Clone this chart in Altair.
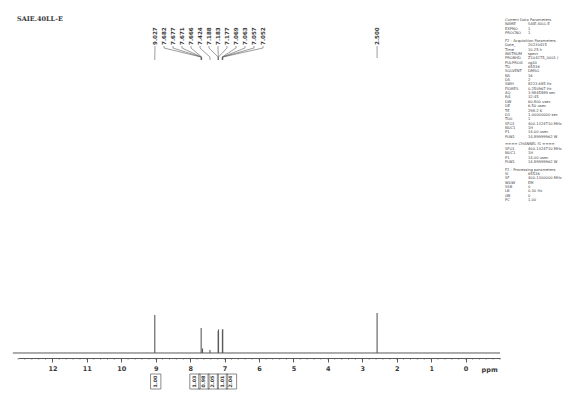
import altair as alt
import pandas as pd
import numpy as np

# ---------------- data ----------------
title_text = "SAIE.40LL-E"

peak_ppm = [9.027, 7.680, 7.640, 7.424, 7.186, 7.176, 7.063, 7.053, 2.570]
peak_int = [100, 66, 12, 8, 58, 62, 60, 63, 105]

label_texts = ["9.027", "7.682", "7.677", "7.671", "7.666", "7.424", "7.188",
               "7.183", "7.177", "7.069", "7.063", "7.057", "7.052"]
label_targets = [9.027, 7.682, 7.677, 7.671, 7.666, 7.424, 7.188,
                 7.183, 7.177, 7.069, 7.063, 7.057, 7.052]
solvent_label = "2.500"
solvent_ppm = 2.570

tick_values = list(range(0, 13))
minor_ticks = [round(v, 2) for v in np.arange(-1.0, 13.01, 0.2)]

integral_ppm = [9.00, 7.86, 7.60, 7.33, 7.06, 6.80]
integral_txt = ["1.00", "1.03", "0.98", "2.05", "1.01", "2.04"]

param_rows = [
    ("Current Data Parameters", "", 1),
    ("NAME", "SAIE.40LL-E", 0),
    ("EXPNO", "1", 0),
    ("PROCNO", "1", 0),
    ("", "", 2),
    ("F2 - Acquisition Parameters", "", 1),
    ("Date_", "20230415", 0),
    ("Time", "10.25 h", 0),
    ("INSTRUM", "spect", 0),
    ("PROBHD", "Z104275_0001 (", 0),
    ("PULPROG", "zg30", 0),
    ("TD", "65536", 0),
    ("SOLVENT", "DMSO", 0),
    ("NS", "16", 0),
    ("DS", "2", 0),
    ("SWH", "8223.685 Hz", 0),
    ("FIDRES", "0.250967 Hz", 0),
    ("AQ", "3.9845889 sec", 0),
    ("RG", "32.45", 0),
    ("DW", "60.800 usec", 0),
    ("DE", "6.50 usec", 0),
    ("TE", "298.2 K", 0),
    ("D1", "1.00000000 sec", 0),
    ("TD0", "1", 0),
    ("SFO1", "400.1324710 MHz", 0),
    ("NUC1", "1H", 0),
    ("P1", "14.00 usec", 0),
    ("PLW1", "14.89999962 W", 0),
    ("", "", 2),
    ("==== CHANNEL f1 ====", "", 1),
    ("SFO1", "400.1324710 MHz", 0),
    ("NUC1", "1H", 0),
    ("P1", "14.00 usec", 0),
    ("PLW1", "14.89999962 W", 0),
    ("", "", 2),
    ("F2 - Processing parameters", "", 1),
    ("SI", "65536", 0),
    ("SF", "400.1300000 MHz", 0),
    ("WDW", "EM", 0),
    ("SSB", "0", 0),
    ("LB", "0.30 Hz", 0),
    ("GB", "0", 0),
    ("PC", "1.00", 0),
]

# ---------------- layout helpers ----------------
W, H = 482, 350
X_DOMAIN = [13, -1]
Y_DOMAIN = [-13.16, 907.9]
LINE = "#5a5a5a"
TXT = "#3a3a3a"

def px_to_ppm(px):
    return X_DOMAIN[0] - px * (X_DOMAIN[0] - X_DOMAIN[1]) / W

xscale = alt.Scale(domain=X_DOMAIN, nice=False, zero=False)
yscale = alt.Scale(domain=Y_DOMAIN, nice=False, zero=False)
xaxis = alt.Axis(values=tick_values, format="d", tickSize=4,
                 labelFontSize=6.5, labelFontWeight="bold",
                 labelColor=TXT, labelPadding=3, labelFont="DejaVu Sans",
                 domainColor=LINE, tickColor=LINE, grid=False,
                 title=None, labelFlush=False)

# ---------------- tables ----------------
peaks = pd.DataFrame({"ppm": peak_ppm, "h": peak_int, "z": 0})
base = pd.DataFrame({"ppm": [13.15], "b": [-1.0], "z": [0]})
minor = pd.DataFrame({"ppm": minor_ticks})

lab_px = [137 + 9 * i for i in range(len(label_texts))]
labels = pd.DataFrame({
    "txt": label_texts + [solvent_label],
    "ppm": [px_to_ppm(p) for p in lab_px] + [solvent_ppm],
    "tx": label_targets + [solvent_ppm],
})
conn = labels.iloc[:-1]
solv = labels.iloc[-1:]

integ = pd.DataFrame({"ppm": integral_ppm, "txt": integral_txt})
integ["lo"] = integ["ppm"] + 0.15
integ["hi"] = integ["ppm"] - 0.15

prows = []
yy = 12.0
for k, v, kind in param_rows:
    if kind == 2:
        yy += 3.5
        continue
    prows.append({"k": k, "v": v, "y": yy, "hdr": kind})
    yy += 4.35
params = pd.DataFrame(prows)

# ---------------- layers ----------------
X = lambda f: alt.X(f, type="quantitative", scale=xscale, axis=xaxis)

peak_layer = alt.Chart(peaks).mark_rule(color=LINE, strokeWidth=1.1).encode(
    x=X("ppm"),
    y=alt.Y("z:Q", scale=yscale, axis=None),
    y2="h")

baseline = alt.Chart(base).mark_rule(color=LINE, strokeWidth=1).encode(
    x=X("ppm"), x2="b",
    y=alt.Y("z:Q", scale=yscale, axis=None))

minor_layer = alt.Chart(minor).mark_rule(color=LINE, strokeWidth=0.5, opacity=0.8).encode(
    x=X("ppm"), y=alt.value(H), y2=alt.value(H + 2))

ppm_text = alt.Chart(pd.DataFrame({"ppm": [-0.7], "t": ["ppm"]})).mark_text(
    fontSize=6.5, fontWeight="bold", color=TXT, font="DejaVu Sans").encode(
    x=X("ppm"), y=alt.value(362), text="t:N")

label_layer = alt.Chart(labels).mark_text(
    angle=270, align="left", baseline="middle", fontSize=5.6,
    fontWeight="bold", color=TXT, font="DejaVu Sans").encode(
    x=X("ppm"), y=alt.value(37), text="txt:N")

c1 = alt.Chart(conn).mark_rule(color=LINE, strokeWidth=0.6).encode(
    x=X("ppm"), y=alt.value(38), y2=alt.value(40))
c2 = alt.Chart(conn).mark_rule(color=LINE, strokeWidth=0.6).encode(
    x=X("ppm"), x2="tx", y=alt.value(40), y2=alt.value(49))
c3 = alt.Chart(conn).mark_rule(color=LINE, strokeWidth=0.6).encode(
    x=X("tx"), y=alt.value(49), y2=alt.value(52))
c4 = alt.Chart(solv).mark_rule(color=LINE, strokeWidth=0.6).encode(
    x=X("ppm"), y=alt.value(38), y2=alt.value(50))

title_layer = alt.Chart(pd.DataFrame({"t": [title_text]})).mark_text(
    align="left", baseline="middle", fontSize=6.5, fontWeight="bold",
    color=TXT, font="DejaVu Serif").encode(
    x=alt.value(-1), y=alt.value(11), text="t:N")

integ_box = alt.Chart(integ).mark_rect(
    fill="white", fillOpacity=0, stroke=LINE, strokeWidth=0.7).encode(
    x=X("lo"), x2="hi", y=alt.value(366), y2=alt.value(381))
integ_txt = alt.Chart(integ).mark_text(
    angle=270, align="center", baseline="middle", fontSize=4.8,
    fontWeight="bold", color=TXT, font="DejaVu Sans").encode(
    x=X("ppm"), y=alt.value(373.5), text="txt:N")

pk = alt.Chart(params)
p_key = pk.mark_text(align="left", baseline="middle", fontSize=3.7,
                     color="#444444", font="DejaVu Sans").encode(
    x=alt.value(487), y=alt.Y("y:Q", scale=None), text="k:N")
p_val = pk.mark_text(align="left", baseline="middle", fontSize=3.7,
                     color="#444444", font="DejaVu Sans").encode(
    x=alt.value(510), y=alt.Y("y:Q", scale=None), text="v:N")

chart = alt.layer(
    peak_layer, baseline, minor_layer, ppm_text, label_layer,
    c1, c2, c3, c4, title_layer, integ_box, integ_txt, p_key, p_val
).resolve_scale(y="independent").properties(
    width=W, height=H,
    padding={"left": 10, "top": 0, "right": 66, "bottom": 32},
    autosize=alt.AutoSizeParams(type="none"),
    background="white",
).configure_view(strokeWidth=0)

chart.save("out.html", embed_options={"renderer": "svg", "actions": False})
